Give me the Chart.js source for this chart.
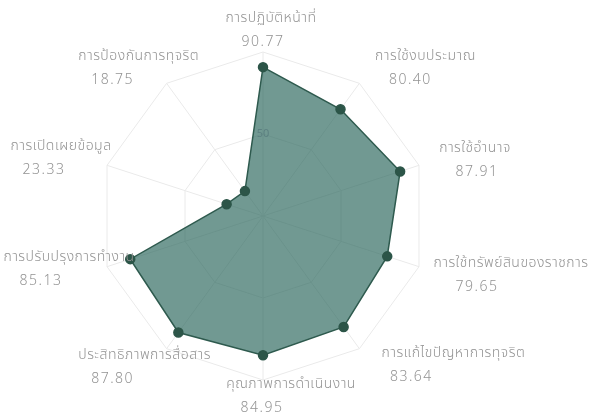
<!DOCTYPE html>
<html>
<head>
<meta charset="utf-8">
<script src="https://cdn.jsdelivr.net/npm/chart.js@4"></script>
<style>
  html, body { margin: 0; padding: 0; background: #fff; }
  #wrap { width: 591px; height: 416px; }
</style>
</head>
<body>
<div id="wrap"><canvas id="radar"></canvas></div>
<script>
// 指標名とスコア
const categories = [
  'การปฏิบัติหน้าที่',
  'การใช้งบประมาณ',
  'การใช้อำนาจ',
  'การใช้ทรัพย์สินของราชการ',
  'การแก้ไขปัญหาการทุจริต',
  'คุณภาพการดำเนินงาน',
  'ประสิทธิภาพการสื่อสาร',
  'การปรับปรุงการทำงาน',
  'การเปิดเผยข้อมูล',
  'การป้องกันการทุจริต'
];
const scores = [90.77, 80.40, 87.91, 79.65, 83.64, 84.95, 87.80, 85.13, 23.33, 18.75];
const tickValues = [0, 50, 100];

// ラベル配置（軸の外端からのずれ: 名前x, 値x, 名前y）
const labelOffsets = [
  [8, 0, -33], [66, 51, -26], [56, 58, -16], [92, 58, -3], [94, 52, 5],
  [28, -1, 5], [-22, -54, 7], [-38, -66, -9], [-46, -63, -18], [-28, -54, -26]
];

const NAME_FONT = "300 14px 'Noto Sans Thai', 'Noto Sans', sans-serif";
const VALUE_FONT = "300 14px 'Noto Sans', 'DejaVu Sans', sans-serif";
const LABEL_COLOR = '#939393';

// 軸ラベル描画プラグイン
const axisLabelPlugin = {
  id: 'axisLabels',
  afterDraw(chart) {
    const scale = chart.scales.r;
    const { ctx } = chart;
    ctx.save();
    ctx.fillStyle = LABEL_COLOR;
    ctx.textAlign = 'center';
    ctx.textBaseline = 'middle';
    categories.forEach((name, i) => {
      const p = scale.getPointPosition(i, scale.drawingArea);
      const [nx, vx, ny] = labelOffsets[i];
      ctx.font = NAME_FONT;
      ctx.letterSpacing = '0.5px';
      ctx.fillText(name, p.x + nx, p.y + ny);
      ctx.font = VALUE_FONT;
      ctx.letterSpacing = '1.5px';
      ctx.fillText(scores[i].toFixed(2), p.x + vx, p.y + ny + 23);
    });
    ctx.restore();
  }
};

new Chart(document.getElementById('radar').getContext('2d'), {
  type: 'radar',
  data: {
    labels: categories,
    datasets: [{
      label: 'ITA',
      data: scores,
      backgroundColor: 'rgba(45, 105, 95, 0.68)',
      borderColor: '#2e5a4e',
      borderWidth: 1.5,
      pointBackgroundColor: '#2c5548',
      pointBorderColor: '#2c5548',
      pointRadius: 4.5
    }]
  },
  options: {
    responsive: true,
    maintainAspectRatio: false,
    animation: false,
    layout: { padding: { top: 44, bottom: 28, left: 0, right: 65 } },
    plugins: {
      legend: { display: false },
      tooltip: { enabled: false }
    },
    scales: {
      r: {
        min: 0,
        max: 100,
        beginAtZero: true,
        afterBuildTicks: (scale) => {
          scale.ticks = tickValues.map(v => ({ value: v }));
        },
        angleLines: { color: '#eaeaea' },
        grid: { color: '#eaeaea' },
        ticks: {
          color: '#bdb2c9',
          backdropColor: 'rgba(255,255,255,0)',
          font: { family: "'Noto Sans', sans-serif", size: 11 },
          callback: (v) => (v === 100 ? '' : v)
        },
        pointLabels: { display: false }
      }
    }
  },
  plugins: [axisLabelPlugin]
});
</script>
</body>
</html>
